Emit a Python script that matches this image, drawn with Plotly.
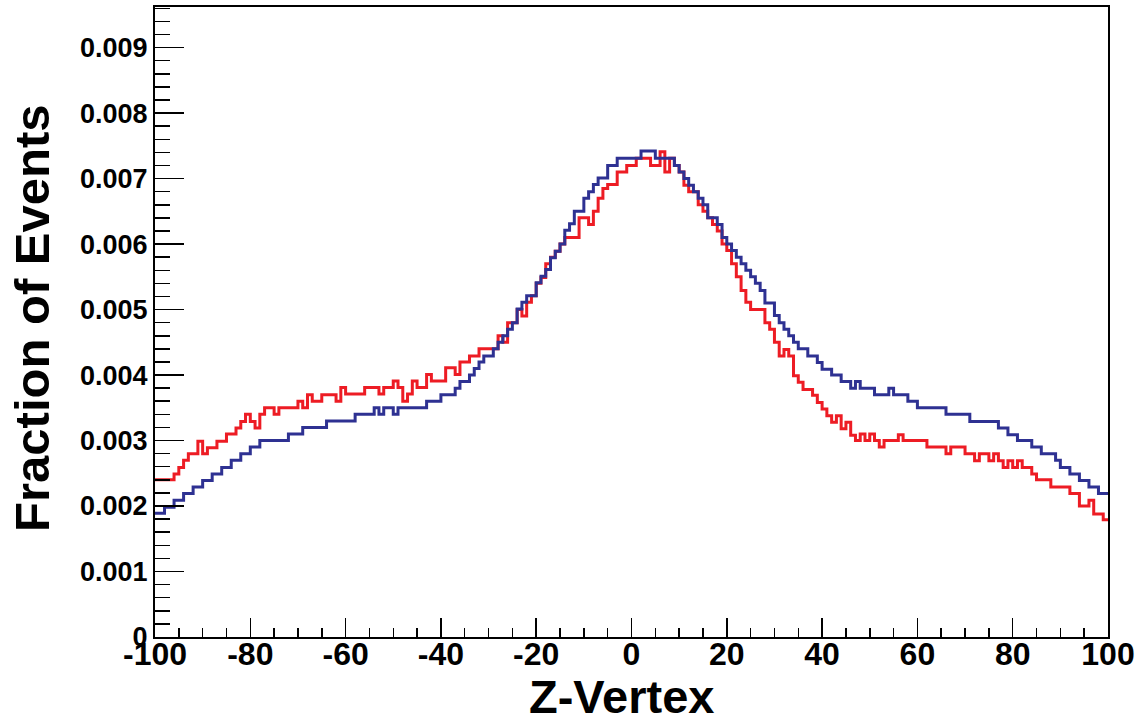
import plotly.graph_objects as go

# Z-vertex bin edges (200 bins of width 1 from -100 to 100)
bin_edges = list(range(-100, 101))

# Fraction of events per bin, blue histogram
blue_vals = [
    0.00189, 0.00189, 0.00198, 0.00198, 0.00209, 0.00209, 0.00219, 0.00219, 0.00229, 0.00229,
    0.00239, 0.00239, 0.00249, 0.00249, 0.00259, 0.00259, 0.00270, 0.00270, 0.00280, 0.00280,
    0.00290, 0.00290, 0.00300, 0.00300, 0.00300, 0.00300, 0.00300, 0.00300, 0.00310, 0.00310,
    0.00310, 0.00320, 0.00320, 0.00320, 0.00320, 0.00320, 0.00330, 0.00330, 0.00330, 0.00330,
    0.00330, 0.00330, 0.00340, 0.00340, 0.00340, 0.00340, 0.00350, 0.00340, 0.00350, 0.00350,
    0.00340, 0.00350, 0.00350, 0.00350, 0.00350, 0.00350, 0.00350, 0.00360, 0.00360, 0.00360,
    0.00370, 0.00370, 0.00370, 0.00380, 0.00390, 0.00390, 0.00400, 0.00410, 0.00420, 0.00429,
    0.00429, 0.00440, 0.00450, 0.00460, 0.00470, 0.00480, 0.00501, 0.00511, 0.00521, 0.00521,
    0.00541, 0.00551, 0.00561, 0.00579, 0.00589, 0.00600, 0.00621, 0.00631, 0.00650, 0.00650,
    0.00670, 0.00680, 0.00691, 0.00701, 0.00701, 0.00720, 0.00720, 0.00731, 0.00731, 0.00731,
    0.00731, 0.00731, 0.00742, 0.00742, 0.00742, 0.00731, 0.00731, 0.00731, 0.00731, 0.00720,
    0.00710, 0.00700, 0.00690, 0.00680, 0.00670, 0.00660, 0.00640, 0.00640, 0.00630, 0.00610,
    0.00600, 0.00590, 0.00580, 0.00570, 0.00560, 0.00550, 0.00540, 0.00529, 0.00510, 0.00510,
    0.00491, 0.00480, 0.00470, 0.00460, 0.00450, 0.00440, 0.00440, 0.00429, 0.00429, 0.00419,
    0.00409, 0.00409, 0.00400, 0.00400, 0.00390, 0.00390, 0.00380, 0.00390, 0.00380, 0.00380,
    0.00380, 0.00370, 0.00370, 0.00370, 0.00380, 0.00370, 0.00370, 0.00370, 0.00360, 0.00360,
    0.00350, 0.00350, 0.00350, 0.00350, 0.00350, 0.00350, 0.00340, 0.00340, 0.00340, 0.00340,
    0.00340, 0.00329, 0.00329, 0.00329, 0.00329, 0.00329, 0.00329, 0.00319, 0.00319, 0.00309,
    0.00309, 0.00300, 0.00300, 0.00300, 0.00290, 0.00290, 0.00280, 0.00280, 0.00280, 0.00270,
    0.00259, 0.00259, 0.00249, 0.00249, 0.00239, 0.00239, 0.00229, 0.00229, 0.00219, 0.00219,
]

# Fraction of events per bin, red histogram
red_vals = [
    0.00240, 0.00240, 0.00240, 0.00240, 0.00249, 0.00259, 0.00270, 0.00280, 0.00280, 0.00299,
    0.00280, 0.00289, 0.00289, 0.00299, 0.00299, 0.00310, 0.00310, 0.00319, 0.00329, 0.00340,
    0.00329, 0.00319, 0.00340, 0.00350, 0.00350, 0.00340, 0.00350, 0.00350, 0.00350, 0.00350,
    0.00360, 0.00350, 0.00370, 0.00360, 0.00360, 0.00370, 0.00370, 0.00370, 0.00360, 0.00381,
    0.00371, 0.00371, 0.00371, 0.00371, 0.00381, 0.00381, 0.00381, 0.00371, 0.00381, 0.00381,
    0.00391, 0.00381, 0.00360, 0.00371, 0.00391, 0.00381, 0.00381, 0.00401, 0.00391, 0.00391,
    0.00391, 0.00411, 0.00411, 0.00401, 0.00420, 0.00420, 0.00429, 0.00429, 0.00440, 0.00440,
    0.00440, 0.00440, 0.00460, 0.00450, 0.00480, 0.00480, 0.00500, 0.00490, 0.00511, 0.00521,
    0.00540, 0.00549, 0.00570, 0.00580, 0.00589, 0.00600, 0.00610, 0.00610, 0.00610, 0.00640,
    0.00640, 0.00630, 0.00650, 0.00670, 0.00685, 0.00691, 0.00691, 0.00710, 0.00710, 0.00720,
    0.00720, 0.00731, 0.00731, 0.00731, 0.00720, 0.00720, 0.00741, 0.00710, 0.00731, 0.00720,
    0.00710, 0.00690, 0.00680, 0.00680, 0.00660, 0.00650, 0.00640, 0.00630, 0.00620, 0.00600,
    0.00590, 0.00570, 0.00550, 0.00529, 0.00511, 0.00500, 0.00500, 0.00500, 0.00480, 0.00470,
    0.00450, 0.00429, 0.00439, 0.00429, 0.00399, 0.00389, 0.00378, 0.00378, 0.00369, 0.00358,
    0.00348, 0.00338, 0.00328, 0.00338, 0.00318, 0.00328, 0.00308, 0.00300, 0.00310, 0.00300,
    0.00310, 0.00300, 0.00290, 0.00300, 0.00300, 0.00300, 0.00309, 0.00300, 0.00300, 0.00300,
    0.00300, 0.00300, 0.00290, 0.00290, 0.00290, 0.00290, 0.00280, 0.00290, 0.00290, 0.00290,
    0.00280, 0.00280, 0.00269, 0.00280, 0.00280, 0.00269, 0.00280, 0.00269, 0.00259, 0.00269,
    0.00259, 0.00269, 0.00259, 0.00259, 0.00249, 0.00240, 0.00240, 0.00240, 0.00229, 0.00229,
    0.00229, 0.00229, 0.00219, 0.00219, 0.00200, 0.00200, 0.00209, 0.00188, 0.00188, 0.00179,
]

x_tick_vals = [-100, -80, -60, -40, -20, 0, 20, 40, 60, 80, 100]
x_tick_text = ["-100", "-80", "-60", "-40", "-20", "0", "20", "40", "60", "80", "100"]
y_tick_vals = [0, 0.001, 0.002, 0.003, 0.004, 0.005, 0.006, 0.007, 0.008, 0.009]
y_tick_text = ["0", "0.001", "0.002", "0.003", "0.004", "0.005", "0.006", "0.007", "0.008", "0.009"]

RED = "#ED1C24"
BLUE = "#2E3192"
FONT = "Liberation Sans, Arial, Helvetica, sans-serif"

fig = go.Figure()
fig.add_trace(go.Scatter(x=bin_edges, y=red_vals + [red_vals[-1]], mode="lines",
                         line=dict(color=RED, width=3, shape="hv"), showlegend=False))
fig.add_trace(go.Scatter(x=bin_edges, y=blue_vals + [blue_vals[-1]], mode="lines",
                         line=dict(color=BLUE, width=3, shape="hv"), showlegend=False))

fig.update_layout(
    width=1140, height=721,
    margin=dict(l=155, r=31, t=5, b=84),
    paper_bgcolor="white", plot_bgcolor="white",
    xaxis=dict(range=[-100, 100], tickvals=x_tick_vals, ticktext=x_tick_text,
               ticks="inside", ticklen=19, tickwidth=1.5, tickcolor="black",
               showline=True, linecolor="black", linewidth=2, mirror=True,
               showgrid=False, zeroline=False, ticklabelstandoff=-12,
               tickfont=dict(family=FONT, size=32, color="black", weight="bold"),
               minor=dict(dtick=5, tick0=0, ticks="inside", ticklen=9.5, tickwidth=1.5,
                          tickcolor="black", showgrid=False)),
    yaxis=dict(range=[0, 0.00962], tickvals=y_tick_vals, ticktext=y_tick_text,
               ticks="inside", ticklen=29, tickwidth=1.5, tickcolor="black",
               showline=True, linecolor="black", linewidth=2, mirror=True,
               showgrid=False, zeroline=False,
               tickfont=dict(family=FONT, size=27, color="black", weight="bold"),
               minor=dict(dtick=0.0002, tick0=0, ticks="inside", ticklen=15, tickwidth=1.5,
                          tickcolor="black", showgrid=False)),
    annotations=[
        dict(text="Z-Vertex", xref="paper", yref="paper", x=0.4895, y=-0.094,
             xanchor="center", yanchor="middle", showarrow=False,
             font=dict(family=FONT, size=47, color="black", weight="bold")),
        dict(text="Fraction of Events", xref="paper", yref="paper", x=-0.129, y=0.505,
             xanchor="center", yanchor="middle", textangle=-90, showarrow=False,
             font=dict(family=FONT, size=49, color="black", weight="bold")),
    ],
)

fig.write_html("out.html", config={"displayModeBar": False, "staticPlot": True},
               post_script="document.body.style.margin='0';document.body.style.overflow='hidden';")
